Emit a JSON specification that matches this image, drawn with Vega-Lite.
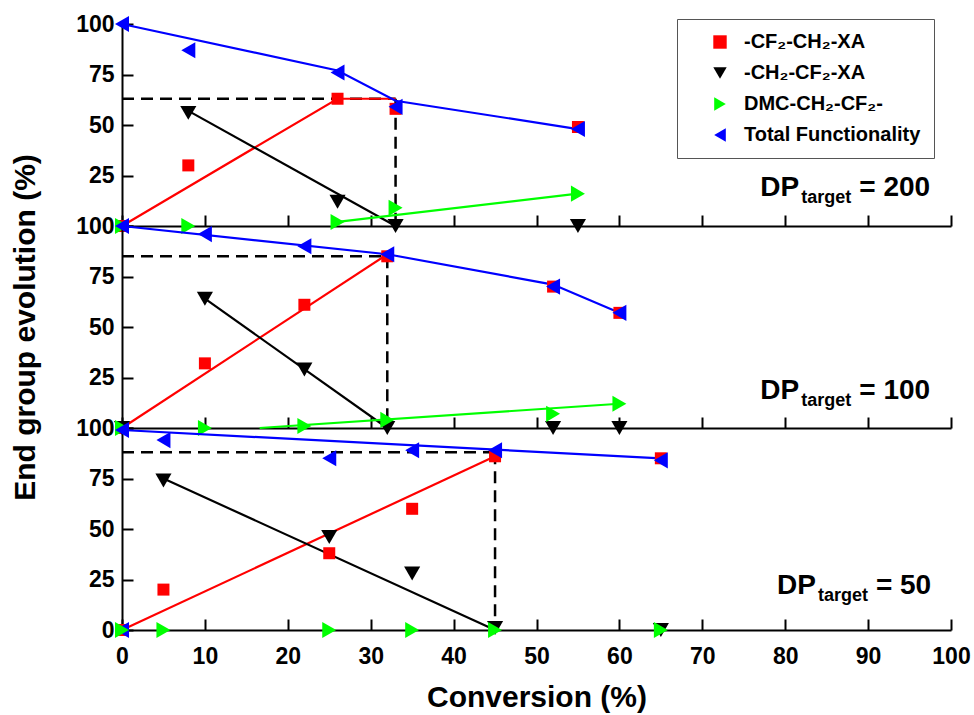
{
  "$schema": "https://vega.github.io/schema/vega-lite/v6.json",
  "padding": {"left": 10, "top": 13, "right": 5, "bottom": 2},
  "spacing": 0,
  "bounds": "flush",
  "background": "white",
  "datasets": {
    "points": [
      {"panel": "200", "series": "-CF₂-CH₂-XA", "x": 0, "y": 0},
      {"panel": "200", "series": "-CF₂-CH₂-XA", "x": 8, "y": 30},
      {"panel": "200", "series": "-CF₂-CH₂-XA", "x": 26, "y": 63},
      {"panel": "200", "series": "-CF₂-CH₂-XA", "x": 33, "y": 58},
      {"panel": "200", "series": "-CF₂-CH₂-XA", "x": 55, "y": 49},
      {"panel": "200", "series": "-CH₂-CF₂-XA", "x": 8, "y": 56},
      {"panel": "200", "series": "-CH₂-CF₂-XA", "x": 26, "y": 12},
      {"panel": "200", "series": "-CH₂-CF₂-XA", "x": 33, "y": 0},
      {"panel": "200", "series": "-CH₂-CF₂-XA", "x": 55, "y": 0},
      {"panel": "200", "series": "Total Functionality", "x": 0, "y": 100},
      {"panel": "200", "series": "Total Functionality", "x": 8, "y": 87},
      {"panel": "200", "series": "Total Functionality", "x": 26, "y": 76},
      {"panel": "200", "series": "Total Functionality", "x": 33, "y": 59},
      {"panel": "200", "series": "Total Functionality", "x": 55, "y": 48},
      {"panel": "200", "series": "DMC-CH₂-CF₂-", "x": 0, "y": 0},
      {"panel": "200", "series": "DMC-CH₂-CF₂-", "x": 8, "y": 0},
      {"panel": "200", "series": "DMC-CH₂-CF₂-", "x": 26, "y": 2},
      {"panel": "200", "series": "DMC-CH₂-CF₂-", "x": 33, "y": 9},
      {"panel": "200", "series": "DMC-CH₂-CF₂-", "x": 55, "y": 16},

      {"panel": "100", "series": "-CF₂-CH₂-XA", "x": 0, "y": 0},
      {"panel": "100", "series": "-CF₂-CH₂-XA", "x": 10, "y": 32},
      {"panel": "100", "series": "-CF₂-CH₂-XA", "x": 22, "y": 61},
      {"panel": "100", "series": "-CF₂-CH₂-XA", "x": 32, "y": 85},
      {"panel": "100", "series": "-CF₂-CH₂-XA", "x": 52, "y": 70},
      {"panel": "100", "series": "-CF₂-CH₂-XA", "x": 60, "y": 57},
      {"panel": "100", "series": "-CH₂-CF₂-XA", "x": 0, "y": 0},
      {"panel": "100", "series": "-CH₂-CF₂-XA", "x": 10, "y": 64},
      {"panel": "100", "series": "-CH₂-CF₂-XA", "x": 22, "y": 29},
      {"panel": "100", "series": "-CH₂-CF₂-XA", "x": 32, "y": 0},
      {"panel": "100", "series": "-CH₂-CF₂-XA", "x": 52, "y": 0},
      {"panel": "100", "series": "-CH₂-CF₂-XA", "x": 60, "y": 0},
      {"panel": "100", "series": "Total Functionality", "x": 0, "y": 100},
      {"panel": "100", "series": "Total Functionality", "x": 10, "y": 96},
      {"panel": "100", "series": "Total Functionality", "x": 22, "y": 90},
      {"panel": "100", "series": "Total Functionality", "x": 32, "y": 86},
      {"panel": "100", "series": "Total Functionality", "x": 52, "y": 70},
      {"panel": "100", "series": "Total Functionality", "x": 60, "y": 57},
      {"panel": "100", "series": "DMC-CH₂-CF₂-", "x": 0, "y": 0},
      {"panel": "100", "series": "DMC-CH₂-CF₂-", "x": 10, "y": 0},
      {"panel": "100", "series": "DMC-CH₂-CF₂-", "x": 22, "y": 1},
      {"panel": "100", "series": "DMC-CH₂-CF₂-", "x": 32, "y": 4},
      {"panel": "100", "series": "DMC-CH₂-CF₂-", "x": 52, "y": 7},
      {"panel": "100", "series": "DMC-CH₂-CF₂-", "x": 60, "y": 12},

      {"panel": "50", "series": "-CF₂-CH₂-XA", "x": 0, "y": 0},
      {"panel": "50", "series": "-CF₂-CH₂-XA", "x": 5, "y": 20},
      {"panel": "50", "series": "-CF₂-CH₂-XA", "x": 25, "y": 38},
      {"panel": "50", "series": "-CF₂-CH₂-XA", "x": 35, "y": 60},
      {"panel": "50", "series": "-CF₂-CH₂-XA", "x": 45, "y": 86},
      {"panel": "50", "series": "-CF₂-CH₂-XA", "x": 65, "y": 85},
      {"panel": "50", "series": "-CH₂-CF₂-XA", "x": 5, "y": 74},
      {"panel": "50", "series": "-CH₂-CF₂-XA", "x": 25, "y": 46},
      {"panel": "50", "series": "-CH₂-CF₂-XA", "x": 35, "y": 28},
      {"panel": "50", "series": "-CH₂-CF₂-XA", "x": 45, "y": 1},
      {"panel": "50", "series": "-CH₂-CF₂-XA", "x": 65, "y": 0},
      {"panel": "50", "series": "Total Functionality", "x": 0, "y": 0},
      {"panel": "50", "series": "Total Functionality", "x": 0, "y": 99},
      {"panel": "50", "series": "Total Functionality", "x": 5, "y": 94},
      {"panel": "50", "series": "Total Functionality", "x": 25, "y": 85},
      {"panel": "50", "series": "Total Functionality", "x": 35, "y": 89},
      {"panel": "50", "series": "Total Functionality", "x": 45, "y": 89},
      {"panel": "50", "series": "Total Functionality", "x": 65, "y": 84},
      {"panel": "50", "series": "DMC-CH₂-CF₂-", "x": 0, "y": 0},
      {"panel": "50", "series": "DMC-CH₂-CF₂-", "x": 5, "y": 0},
      {"panel": "50", "series": "DMC-CH₂-CF₂-", "x": 25, "y": 0},
      {"panel": "50", "series": "DMC-CH₂-CF₂-", "x": 35, "y": 0},
      {"panel": "50", "series": "DMC-CH₂-CF₂-", "x": 45, "y": 0},
      {"panel": "50", "series": "DMC-CH₂-CF₂-", "x": 65, "y": 0}
    ],
    "lines": [
      {"panel": "200", "series": "-CF₂-CH₂-XA", "x": 0, "y": 0},
      {"panel": "200", "series": "-CF₂-CH₂-XA", "x": 26, "y": 63},
      {"panel": "200", "series": "-CF₂-CH₂-XA", "x": 33, "y": 63},
      {"panel": "200", "series": "-CH₂-CF₂-XA", "x": 8, "y": 57},
      {"panel": "200", "series": "-CH₂-CF₂-XA", "x": 33, "y": 0},
      {"panel": "200", "series": "DMC-CH₂-CF₂-", "x": 26, "y": 2},
      {"panel": "200", "series": "DMC-CH₂-CF₂-", "x": 55, "y": 16},
      {"panel": "200", "series": "Total Functionality", "x": 0, "y": 100},
      {"panel": "200", "series": "Total Functionality", "x": 26, "y": 77},
      {"panel": "200", "series": "Total Functionality", "x": 33, "y": 62},
      {"panel": "200", "series": "Total Functionality", "x": 55, "y": 48},
      {"panel": "100", "series": "-CF₂-CH₂-XA", "x": 0, "y": 0},
      {"panel": "100", "series": "-CF₂-CH₂-XA", "x": 32, "y": 86},
      {"panel": "100", "series": "-CH₂-CF₂-XA", "x": 10, "y": 64},
      {"panel": "100", "series": "-CH₂-CF₂-XA", "x": 32, "y": 0},
      {"panel": "100", "series": "DMC-CH₂-CF₂-", "x": 16.6, "y": 0},
      {"panel": "100", "series": "DMC-CH₂-CF₂-", "x": 60, "y": 12},
      {"panel": "100", "series": "Total Functionality", "x": 0, "y": 100},
      {"panel": "100", "series": "Total Functionality", "x": 32, "y": 86},
      {"panel": "100", "series": "Total Functionality", "x": 52, "y": 71},
      {"panel": "100", "series": "Total Functionality", "x": 60, "y": 57},
      {"panel": "50", "series": "-CF₂-CH₂-XA", "x": 0, "y": 0},
      {"panel": "50", "series": "-CF₂-CH₂-XA", "x": 45, "y": 86},
      {"panel": "50", "series": "-CH₂-CF₂-XA", "x": 5, "y": 75},
      {"panel": "50", "series": "-CH₂-CF₂-XA", "x": 45, "y": 0},
      {"panel": "50", "series": "Total Functionality", "x": 0, "y": 99},
      {"panel": "50", "series": "Total Functionality", "x": 65, "y": 85}
    ],
    "dashes": [
      {"panel": "200", "x": 0, "x2": 33, "y": 63, "y2": 63},
      {"panel": "200", "x": 33, "x2": 33, "y": 63, "y2": 0},
      {"panel": "100", "x": 0, "x2": 32, "y": 85, "y2": 85},
      {"panel": "100", "x": 32, "x2": 32, "y": 85, "y2": 0},
      {"panel": "50", "x": 0, "x2": 45, "y": 88, "y2": 88},
      {"panel": "50", "x": 45, "x2": 45, "y": 88, "y2": 0}
    ],
    "labels": [
      {"panel": "200", "x": 77, "y": 15, "main": "DP", "sub": "target", "rest": "= 200"},
      {"panel": "100", "x": 77, "y": 14.5, "main": "DP", "sub": "target", "rest": "= 100"},
      {"panel": "50", "x": 79, "y": 18, "main": "DP", "sub": "target", "rest": "= 50"}
    ]
  },
  "vconcat": [
    {
      "width": 829, "height": 202,
      "layer": [
        {"data": {"name": "dashes"}, "transform": [{"filter": "datum.panel == '200'"}],
         "mark": {"type": "rule", "strokeDash": [12, 7], "strokeWidth": 2.5, "color": "black"},
         "encoding": {
           "x": {"field": "x", "type": "quantitative", "scale": {"domain": [0, 100], "nice": false},
                 "axis": {"values": [0,10,20,30,40,50,60,70,80,90,100], "labels": false, "title": null, "tickSize": -11}},
           "y": {"field": "y", "type": "quantitative", "scale": {"domain": [0, 100], "nice": false},
                 "axis": {"values": [0,12.5,25,37.5,50,62.5,75,87.5,100], "title": null,
                          "labelExpr": "datum.value % 25 == 0 && datum.value > 0 ? datum.label : ''",
                          "tickSize": {"condition": {"test": "datum.value % 25 != 0", "value": -6}, "value": -11}}},
           "x2": {"field": "x2"}, "y2": {"field": "y2"}}},
        {"data": {"name": "lines"}, "transform": [{"filter": "datum.panel == '200'"}],
         "mark": {"type": "line", "strokeWidth": 2.2},
         "encoding": {
           "x": {"field": "x", "type": "quantitative"},
           "y": {"field": "y", "type": "quantitative"},
           "detail": {"field": "series", "type": "nominal"},
           "color": {"condition": [
             {"test": "datum.series == '-CF₂-CH₂-XA'", "value": "#ff0000"},
             {"test": "datum.series == '-CH₂-CF₂-XA'", "value": "#000000"},
             {"test": "datum.series == 'DMC-CH₂-CF₂-'", "value": "#00ff00"}], "value": "#0000ff"}}},
        {"data": {"name": "points"}, "transform": [{"filter": "datum.panel == '200' && datum.series == '-CF₂-CH₂-XA'"}],
         "mark": {"type": "point", "filled": true, "opacity": 1, "size": 144},
         "encoding": {
           "x": {"field": "x", "type": "quantitative"},
           "y": {"field": "y", "type": "quantitative"},
           "color": {"field": "series", "type": "nominal", "legend": {"title": null, "orient": "none", "legendX": 555, "legendY": -5},
                     "scale": {"domain": ["-CF₂-CH₂-XA", "-CH₂-CF₂-XA", "DMC-CH₂-CF₂-", "Total Functionality"], "range": ["#ff0000", "#000000", "#00ff00", "#0000ff"]}},
           "shape": {"field": "series", "type": "nominal", "legend": {"title": null, "orient": "none", "legendX": 555, "legendY": -5},
                     "scale": {"domain": ["-CF₂-CH₂-XA", "-CH₂-CF₂-XA", "DMC-CH₂-CF₂-", "Total Functionality"], "range": ["square", "triangle-down", "triangle-right", "triangle-left"]}}}},
        {"data": {"name": "points"}, "transform": [{"filter": "datum.panel == '200' && datum.series != '-CF₂-CH₂-XA'"}],
         "mark": {"type": "point", "filled": true, "opacity": 1, "size": 260},
         "encoding": {
           "x": {"field": "x", "type": "quantitative"},
           "y": {"field": "y", "type": "quantitative"},
           "color": {"field": "series", "type": "nominal", "legend": {"title": null, "orient": "none", "legendX": 555, "legendY": -5},
                     "scale": {"domain": ["-CF₂-CH₂-XA", "-CH₂-CF₂-XA", "DMC-CH₂-CF₂-", "Total Functionality"], "range": ["#ff0000", "#000000", "#00ff00", "#0000ff"]}},
           "shape": {"field": "series", "type": "nominal", "legend": {"title": null, "orient": "none", "legendX": 555, "legendY": -5},
                     "scale": {"domain": ["-CF₂-CH₂-XA", "-CH₂-CF₂-XA", "DMC-CH₂-CF₂-", "Total Functionality"], "range": ["square", "triangle-down", "triangle-right", "triangle-left"]}}}},
        {"data": {"name": "labels"}, "transform": [{"filter": "datum.panel == '200'"}],
         "mark": {"type": "text", "align": "left", "baseline": "alphabetic", "fontSize": 28},
         "encoding": {"x": {"field": "x", "type": "quantitative"}, "y": {"field": "y", "type": "quantitative"}, "text": {"field": "main"}}},
        {"data": {"name": "labels"}, "transform": [{"filter": "datum.panel == '200'"}],
         "mark": {"type": "text", "align": "left", "baseline": "alphabetic", "fontSize": 18, "dx": 41, "dy": 7},
         "encoding": {"x": {"field": "x", "type": "quantitative"}, "y": {"field": "y", "type": "quantitative"}, "text": {"field": "sub"}}},
        {"data": {"name": "labels"}, "transform": [{"filter": "datum.panel == '200'"}],
         "mark": {"type": "text", "align": "left", "baseline": "alphabetic", "fontSize": 28, "dx": 99},
         "encoding": {"x": {"field": "x", "type": "quantitative"}, "y": {"field": "y", "type": "quantitative"}, "text": {"field": "rest"}}}
      ]
    },
    {
      "width": 829, "height": 202,
      "layer": [
        {"data": {"name": "dashes"}, "transform": [{"filter": "datum.panel == '100'"}],
         "mark": {"type": "rule", "strokeDash": [12, 7], "strokeWidth": 2.5, "color": "black"},
         "encoding": {
           "x": {"field": "x", "type": "quantitative", "scale": {"domain": [0, 100], "nice": false},
                 "axis": {"values": [0,10,20,30,40,50,60,70,80,90,100], "labels": false, "title": null, "tickSize": -11}},
           "y": {"field": "y", "type": "quantitative", "scale": {"domain": [0, 100], "nice": false},
                 "axis": {"values": [0,12.5,25,37.5,50,62.5,75,87.5,100], "title": "End group evolution (%)",
                          "labelExpr": "datum.value % 25 == 0 && datum.value > 0 ? datum.label : ''",
                          "tickSize": {"condition": {"test": "datum.value % 25 != 0", "value": -6}, "value": -11}}},
           "x2": {"field": "x2"}, "y2": {"field": "y2"}}},
        {"data": {"name": "lines"}, "transform": [{"filter": "datum.panel == '100'"}],
         "mark": {"type": "line", "strokeWidth": 2.2},
         "encoding": {
           "x": {"field": "x", "type": "quantitative"},
           "y": {"field": "y", "type": "quantitative"},
           "detail": {"field": "series", "type": "nominal"},
           "color": {"condition": [
             {"test": "datum.series == '-CF₂-CH₂-XA'", "value": "#ff0000"},
             {"test": "datum.series == '-CH₂-CF₂-XA'", "value": "#000000"},
             {"test": "datum.series == 'DMC-CH₂-CF₂-'", "value": "#00ff00"}], "value": "#0000ff"}}},
        {"data": {"name": "points"}, "transform": [{"filter": "datum.panel == '100' && datum.series == '-CF₂-CH₂-XA'"}],
         "mark": {"type": "point", "filled": true, "opacity": 1, "size": 144},
         "encoding": {
           "x": {"field": "x", "type": "quantitative"},
           "y": {"field": "y", "type": "quantitative"},
           "color": {"field": "series", "type": "nominal", "legend": null,
                     "scale": {"domain": ["-CF₂-CH₂-XA", "-CH₂-CF₂-XA", "DMC-CH₂-CF₂-", "Total Functionality"], "range": ["#ff0000", "#000000", "#00ff00", "#0000ff"]}},
           "shape": {"field": "series", "type": "nominal", "legend": null,
                     "scale": {"domain": ["-CF₂-CH₂-XA", "-CH₂-CF₂-XA", "DMC-CH₂-CF₂-", "Total Functionality"], "range": ["square", "triangle-down", "triangle-right", "triangle-left"]}}}},
        {"data": {"name": "points"}, "transform": [{"filter": "datum.panel == '100' && datum.series != '-CF₂-CH₂-XA'"}],
         "mark": {"type": "point", "filled": true, "opacity": 1, "size": 260},
         "encoding": {
           "x": {"field": "x", "type": "quantitative"},
           "y": {"field": "y", "type": "quantitative"},
           "color": {"field": "series", "type": "nominal", "legend": null,
                     "scale": {"domain": ["-CF₂-CH₂-XA", "-CH₂-CF₂-XA", "DMC-CH₂-CF₂-", "Total Functionality"], "range": ["#ff0000", "#000000", "#00ff00", "#0000ff"]}},
           "shape": {"field": "series", "type": "nominal", "legend": null,
                     "scale": {"domain": ["-CF₂-CH₂-XA", "-CH₂-CF₂-XA", "DMC-CH₂-CF₂-", "Total Functionality"], "range": ["square", "triangle-down", "triangle-right", "triangle-left"]}}}},
        {"data": {"name": "labels"}, "transform": [{"filter": "datum.panel == '100'"}],
         "mark": {"type": "text", "align": "left", "baseline": "alphabetic", "fontSize": 28},
         "encoding": {"x": {"field": "x", "type": "quantitative"}, "y": {"field": "y", "type": "quantitative"}, "text": {"field": "main"}}},
        {"data": {"name": "labels"}, "transform": [{"filter": "datum.panel == '100'"}],
         "mark": {"type": "text", "align": "left", "baseline": "alphabetic", "fontSize": 18, "dx": 41, "dy": 7},
         "encoding": {"x": {"field": "x", "type": "quantitative"}, "y": {"field": "y", "type": "quantitative"}, "text": {"field": "sub"}}},
        {"data": {"name": "labels"}, "transform": [{"filter": "datum.panel == '100'"}],
         "mark": {"type": "text", "align": "left", "baseline": "alphabetic", "fontSize": 28, "dx": 99},
         "encoding": {"x": {"field": "x", "type": "quantitative"}, "y": {"field": "y", "type": "quantitative"}, "text": {"field": "rest"}}}
      ]
    },
    {
      "width": 829, "height": 202,
      "layer": [
        {"data": {"name": "dashes"}, "transform": [{"filter": "datum.panel == '50'"}],
         "mark": {"type": "rule", "strokeDash": [12, 7], "strokeWidth": 2.5, "color": "black"},
         "encoding": {
           "x": {"field": "x", "type": "quantitative", "scale": {"domain": [0, 100], "nice": false},
                 "axis": {"values": [0,10,20,30,40,50,60,70,80,90,100], "title": "Conversion (%)", "tickSize": -11, "labelPadding": 26, "titlePadding": 14}},
           "y": {"field": "y", "type": "quantitative", "scale": {"domain": [0, 100], "nice": false},
                 "axis": {"values": [0,12.5,25,37.5,50,62.5,75,87.5,100], "title": null,
                          "labelExpr": "datum.value % 25 == 0 ? datum.label : ''",
                          "tickSize": {"condition": {"test": "datum.value % 25 != 0", "value": -6}, "value": -11}}},
           "x2": {"field": "x2"}, "y2": {"field": "y2"}}},
        {"data": {"name": "lines"}, "transform": [{"filter": "datum.panel == '50'"}],
         "mark": {"type": "line", "strokeWidth": 2.2},
         "encoding": {
           "x": {"field": "x", "type": "quantitative"},
           "y": {"field": "y", "type": "quantitative"},
           "detail": {"field": "series", "type": "nominal"},
           "color": {"condition": [
             {"test": "datum.series == '-CF₂-CH₂-XA'", "value": "#ff0000"},
             {"test": "datum.series == '-CH₂-CF₂-XA'", "value": "#000000"},
             {"test": "datum.series == 'DMC-CH₂-CF₂-'", "value": "#00ff00"}], "value": "#0000ff"}}},
        {"data": {"name": "points"}, "transform": [{"filter": "datum.panel == '50' && datum.series == '-CF₂-CH₂-XA'"}],
         "mark": {"type": "point", "filled": true, "opacity": 1, "size": 144},
         "encoding": {
           "x": {"field": "x", "type": "quantitative"},
           "y": {"field": "y", "type": "quantitative"},
           "color": {"field": "series", "type": "nominal", "legend": null,
                     "scale": {"domain": ["-CF₂-CH₂-XA", "-CH₂-CF₂-XA", "DMC-CH₂-CF₂-", "Total Functionality"], "range": ["#ff0000", "#000000", "#00ff00", "#0000ff"]}},
           "shape": {"field": "series", "type": "nominal", "legend": null,
                     "scale": {"domain": ["-CF₂-CH₂-XA", "-CH₂-CF₂-XA", "DMC-CH₂-CF₂-", "Total Functionality"], "range": ["square", "triangle-down", "triangle-right", "triangle-left"]}}}},
        {"data": {"name": "points"}, "transform": [{"filter": "datum.panel == '50' && datum.series != '-CF₂-CH₂-XA'"}],
         "mark": {"type": "point", "filled": true, "opacity": 1, "size": 260},
         "encoding": {
           "x": {"field": "x", "type": "quantitative"},
           "y": {"field": "y", "type": "quantitative"},
           "color": {"field": "series", "type": "nominal", "legend": null,
                     "scale": {"domain": ["-CF₂-CH₂-XA", "-CH₂-CF₂-XA", "DMC-CH₂-CF₂-", "Total Functionality"], "range": ["#ff0000", "#000000", "#00ff00", "#0000ff"]}},
           "shape": {"field": "series", "type": "nominal", "legend": null,
                     "scale": {"domain": ["-CF₂-CH₂-XA", "-CH₂-CF₂-XA", "DMC-CH₂-CF₂-", "Total Functionality"], "range": ["square", "triangle-down", "triangle-right", "triangle-left"]}}}},
        {"data": {"name": "labels"}, "transform": [{"filter": "datum.panel == '50'"}],
         "mark": {"type": "text", "align": "left", "baseline": "alphabetic", "fontSize": 28},
         "encoding": {"x": {"field": "x", "type": "quantitative"}, "y": {"field": "y", "type": "quantitative"}, "text": {"field": "main"}}},
        {"data": {"name": "labels"}, "transform": [{"filter": "datum.panel == '50'"}],
         "mark": {"type": "text", "align": "left", "baseline": "alphabetic", "fontSize": 18, "dx": 41, "dy": 7},
         "encoding": {"x": {"field": "x", "type": "quantitative"}, "y": {"field": "y", "type": "quantitative"}, "text": {"field": "sub"}}},
        {"data": {"name": "labels"}, "transform": [{"filter": "datum.panel == '50'"}],
         "mark": {"type": "text", "align": "left", "baseline": "alphabetic", "fontSize": 28, "dx": 99},
         "encoding": {"x": {"field": "x", "type": "quantitative"}, "y": {"field": "y", "type": "quantitative"}, "text": {"field": "rest"}}}
      ]
    }
  ],
  "config": {
    "view": {"stroke": null},
    "font": "Liberation Sans",
    "axis": {
      "domainColor": "black", "domainWidth": 2, "tickColor": "black", "tickWidth": 2,
      "labelFont": "Liberation Sans", "labelFontWeight": "bold", "labelFontSize": 23, "labelColor": "black",
      "titleFont": "Liberation Sans", "titleFontWeight": "bold", "titleFontSize": 30, "titleColor": "black",
      "grid": false, "labelOverlap": false, "labelFlush": false, "labelBound": false
    },
    "axisY": {"labelPadding": 19, "titlePadding": 35},
    "text": {"font": "Liberation Sans", "fontWeight": "bold", "color": "black"},
    "legend": {
      "labelFont": "Liberation Sans", "labelFontWeight": "bold", "labelFontSize": 20, "labelColor": "black",
      "strokeColor": "#555555", "fillColor": "white", "padding": 13, "rowPadding": 11,
      "symbolOffset": 20, "labelOffset": 14, "labelLimit": 400, "symbolSize": 180
    }
  }
}
